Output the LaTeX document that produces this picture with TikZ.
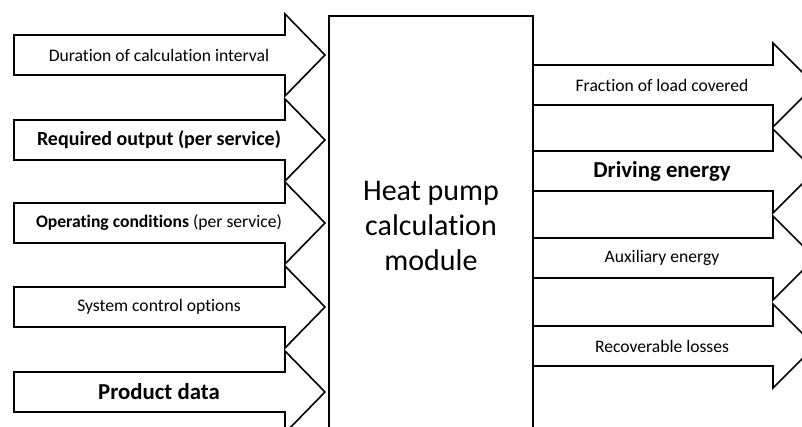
\documentclass[tikz,border=0pt]{standalone}
\usepackage{fontspec}
\setmainfont{Carlito}[Ligatures=NoCommon]
\usetikzlibrary{positioning}
\tikzset{
  blockarrow/.style={draw, fill=white, line width=1.6pt, line join=miter},
  modbox/.style={draw, fill=white, line width=1.6pt},
  lbl/.style={font=\fontsize{17.6}{21}\selectfont},
  lblmid/.style={font=\fontsize{20}{24}\selectfont\bfseries},
  lblbig/.style={font=\fontsize{22.8}{27}\selectfont\bfseries}
}

\begin{document}
\begin{tikzpicture}[x=1pt, y=-1pt]
    % Frame of the picture
    \clip (0,0) rectangle (802,427);
    \fill[white] (0,0) rectangle (802,427);

    % Input arrows (left)
    \foreach \c in {55,140,223,307,392} {
        \draw[blockarrow] (14,\c-20) -- (285,\c-20) -- (285,\c-41) -- (325,\c)
            -- (285,\c+41) -- (285,\c+20) -- (14,\c+20) -- cycle;
    }
    \node (dur) at (159,55) [lbl] {Duration of calculation interval};
    \node (req) at (159,140) [lblmid] {Required output (per service)};
    \node (opc) at (159,223) [lbl] {\textbf{Operating conditions} (per service)};
    \node (ctl) at (159,307) [lbl] {System control options};
    \node (prd) at (159,392) [lblbig] {Product data};

    % Output arrows (right)
    \foreach \c in {85,171,258,346} {
        \draw[blockarrow] (533,\c-20) -- (773,\c-20) -- (773,\c-42) -- (815,\c)
            -- (773,\c+42) -- (773,\c+20) -- (533,\c+20) -- cycle;
    }
    \node (frc) at (662,85) [lbl] {Fraction of load covered};
    \node (drv) at (662,171) [lblbig] {Driving energy};
    \node (aux) at (662,258) [lbl] {Auxiliary energy};
    \node (rec) at (662,346) [lbl] {Recoverable losses};

    % Calculation module
    \draw[modbox] (329,16) rectangle (533,440);
    \node (hpm) at (431,226) [align=center, font=\fontsize{30}{35}\selectfont]
        {Heat pump\\calculation\\module};
\end{tikzpicture}
\end{document}
